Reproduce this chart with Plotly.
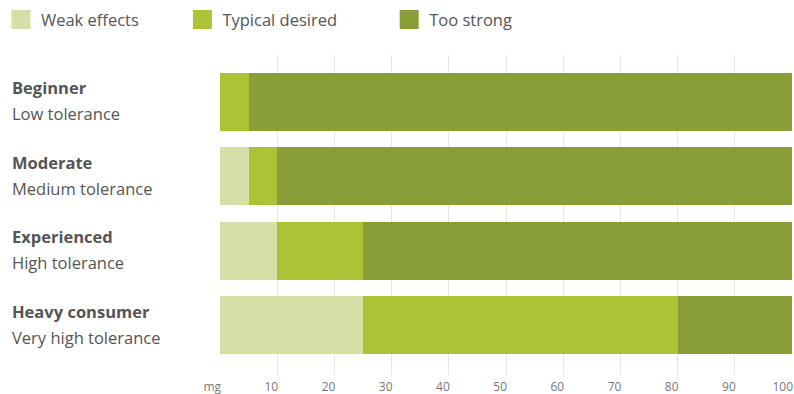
import plotly.graph_objects as go

groups = ["Beginner", "Moderate", "Experienced", "Heavy consumer"]
tolerances = ["Low tolerance", "Medium tolerance", "High tolerance", "Very high tolerance"]
series_names = ["Weak effects", "Typical desired", "Too strong"]
weak = [0, 5, 10, 25]
typical = [5, 5, 15, 55]
strong = [95, 90, 75, 20]
tick_vals = [0, 10, 20, 30, 40, 50, 60, 70, 80, 90, 100]
tick_text = ["mg", "10", "20", "30", "40", "50", "60", "70", "80", "90", "100"]

colors = ["#d4e0a5", "#abc437", "#8a9e37"]
legend_pad = [9, 11, 0]  # trailing spacing in legend entries (style)
FONT = "Open Sans"
NBSP = "\u00a0"

fig = go.Figure()
for name, vals, col, pad in zip(series_names, [weak, typical, strong], colors, legend_pad):
    fig.add_trace(go.Bar(
        y=groups, x=vals, name=name, orientation="h",
        marker=dict(color=col, line=dict(width=0)),
        width=0.78, showlegend=False,
    ))
    # legend proxy with larger square
    fig.add_trace(go.Scatter(
        x=[None], y=[None], mode="markers", name=name + NBSP * pad,
        marker=dict(symbol="square", size=16, color=col, line=dict(width=3, color=col)),
        showlegend=True,
    ))

annotations = []
for g, t in zip(groups, tolerances):
    annotations.append(dict(
        x=-0.368, xref="paper", y=g, yref="y", text="<b>" + g + "</b>",
        showarrow=False, xanchor="left", yanchor="middle", yshift=14,
        font=dict(family=FONT, size=16.5, color="#555555"),
    ))
    annotations.append(dict(
        x=-0.368, xref="paper", y=g, yref="y", text=t,
        showarrow=False, xanchor="left", yanchor="middle", yshift=-12,
        font=dict(family=FONT, size=16.5, color="#555555"),
    ))

fig.update_layout(
    width=794, height=394,
    margin=dict(l=220, r=2, t=55, b=19, autoexpand=False),
    barmode="stack",
    plot_bgcolor="white", paper_bgcolor="white",
    font=dict(family=FONT, color="#666666"),
    legend=dict(
        orientation="h", x=-0.383, xanchor="left", y=1.11, yanchor="middle",
        font=dict(family=FONT, size=16.5, color="#555555"),
        bgcolor="rgba(0,0,0,0)", traceorder="normal",
    ),
    annotations=annotations,
    xaxis=dict(
        range=[0, 100], tickvals=tick_vals, ticktext=tick_text,
        showgrid=True, gridcolor="#e6e6ec", gridwidth=1,
        zeroline=False, showline=False, ticks="",
        tickfont=dict(family=FONT, size=12, color="#777777"),
        ticklabelposition="outside left", ticklabelshift=1,
        ticklabelstandoff=3, ticklabeloverflow="allow",
        automargin=False, fixedrange=True,
    ),
    yaxis=dict(
        categoryorder="array", categoryarray=groups,
        range=[3.67, -0.63], showticklabels=False, showgrid=False,
        zeroline=False, showline=False, ticks="", automargin=False,
    ),
)

fig.write_html("out.html")
